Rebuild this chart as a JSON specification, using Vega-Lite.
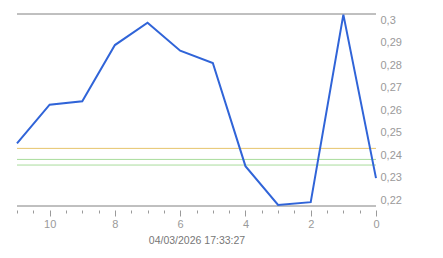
{
  "$schema": "https://vega.github.io/schema/vega-lite/v6.json",
  "autosize": {"type": "none"},
  "width": 359,
  "height": 192,
  "padding": {"left": 17, "top": 14, "right": 67, "bottom": 52},
  "background": "white",
  "config": {"view": {"stroke": null}, "font": "Liberation Sans"},
  "datasets": {
    "series": [
      {"t": 11, "v": 0.2453},
      {"t": 10, "v": 0.2625},
      {"t": 9, "v": 0.264},
      {"t": 8, "v": 0.289},
      {"t": 7, "v": 0.2989},
      {"t": 6, "v": 0.2865},
      {"t": 5, "v": 0.281},
      {"t": 4, "v": 0.2352},
      {"t": 3, "v": 0.218},
      {"t": 2, "v": 0.2192},
      {"t": 1, "v": 0.3025},
      {"t": 0, "v": 0.2299}
    ],
    "levels": [
      {"level": "a", "v": 0.2431},
      {"level": "b", "v": 0.2382},
      {"level": "c", "v": 0.2357}
    ],
    "frame": [{"v": 0.2175}, {"v": 0.3028}]
  },
  "encoding": {
    "y": {
      "field": "v",
      "type": "quantitative",
      "scale": {"domain": [0.2175, 0.3028], "nice": false, "zero": false},
      "axis": {
        "orient": "right",
        "values": [0.22, 0.23, 0.24, 0.25, 0.26, 0.27, 0.28, 0.29, 0.3],
        "domain": false,
        "ticks": false,
        "grid": false,
        "labelExpr": "replace(format(datum.value, '.2~f'), '.', ',')",
        "labelColor": "#9a9a9a",
        "labelFontSize": 11,
        "labelPadding": 4,
        "labelFlush": false,
        "labelOverlap": false,
        "title": null
      }
    }
  },
  "layer": [
    {
      "data": {"name": "levels"},
      "mark": {"type": "rule", "strokeWidth": 1},
      "encoding": {
        "color": {
          "field": "level",
          "type": "nominal",
          "scale": {"domain": ["a", "b", "c"], "range": ["#e6c46c", "#a9dc9c", "#a9dc9c"]},
          "legend": null
        }
      }
    },
    {
      "data": {"name": "frame"},
      "mark": {"type": "rule", "color": "#808080", "strokeWidth": 1},
      "encoding": {}
    },
    {
      "data": {"name": "series"},
      "mark": {"type": "line", "color": "#3064d8", "strokeWidth": 2},
      "encoding": {
        "x": {
          "field": "t",
          "type": "quantitative",
          "scale": {"domain": [0, 11], "reverse": true, "nice": false, "zero": false},
          "axis": {
            "orient": "bottom",
            "offset": 4,
            "domain": false,
            "grid": false,
            "values": [0, 0.5, 1, 1.5, 2, 2.5, 3, 3.5, 4, 4.5, 5, 5.5, 6, 6.5, 7, 7.5, 8, 8.5, 9, 9.5, 10, 10.5, 11],
            "tickSize": {"condition": {"test": "datum.value % 2 === 0", "value": 6}, "value": 3},
            "tickColor": "#9a9a9a",
            "labelExpr": "datum.value % 2 === 0 && datum.value <= 10 ? format(datum.value, 'd') : ''",
            "labelColor": "#9a9a9a",
            "labelFontSize": 11,
            "labelPadding": 2,
            "labelFlush": false,
            "labelOverlap": false,
            "title": "04/03/2026 17:33:27",
            "titleColor": "#777777",
            "titleFontSize": 10.5,
            "titleFontWeight": "normal",
            "titlePadding": 6
          }
        }
      }
    }
  ]
}
